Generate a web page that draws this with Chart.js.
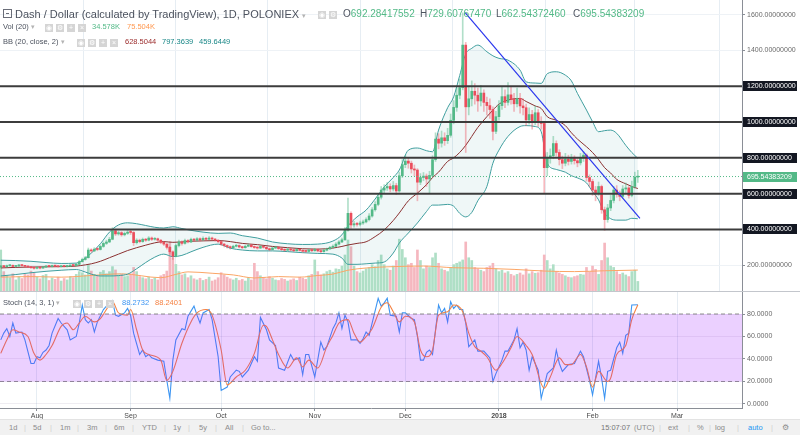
<!DOCTYPE html>
<html lang="en">
<head>
<meta charset="utf-8"/>
<title>Dash / Dollar, 1D, POLONIEX</title>
<style>
  body, html {
    margin: 0;
    padding: 0;
    background: #fff;
    font-family: 'Liberation Sans', Arial, sans-serif;
  }
  #wrap { position: relative; width: 800px; height: 435px; overflow: hidden; }
  canvas { position: absolute; left: 0; }
  #mainChart { top: 0; }
  #stochChart { top: 292px; }
  #sep { position: absolute; left: 0; top: 291px; width: 800px; height: 1px; background: #c3c6cc; }
  .t { position: absolute; white-space: nowrap; line-height: 12px; color: #4c525e; }
  .small { font-size: 7.5px; }
  .ib {
    display: inline-block; width: 8px; height: 8px; margin-right: 3px;
    background: #d5d5d5; color: #fff; font-size: 7px; line-height: 8px;
    text-align: center; vertical-align: middle;
  }
  .arrow { color: #b3b3b3; font-size: 7px; }
  .up { color: #53b987; }
  #toolbar {
    position: absolute; left: 0; top: 419px; width: 800px; height: 16px;
    background: #f1f1f1; border-top: 1px solid #e3e3e3;
    font-size: 7.5px; color: #8c8c8c;
  }
  #toolbar span { position: absolute; top: 2px; line-height: 12px; }
  #toolbar .bar { color: #d0d0d0; }
</style>
</head>
<body>
<div id="wrap">
  <canvas id="mainChart" width="800" height="291"></canvas>
  <div id="sep"></div>
  <canvas id="stochChart" width="800" height="128"></canvas>

  <!-- price pane legend -->
  <div class="t" style="left:3px;top:9px;width:7px;height:7px;border:1px solid #6a6d78;">
    <div style="position:absolute;left:2px;top:3px;width:3px;height:1px;background:#6a6d78"></div>
  </div>
  <div class="t" style="left:15px;top:8px;font-size:11px;">Dash / Dollar (calculated by TradingView), 1D, POLONIEX <span class="arrow">▾</span></div>
  <div class="t" style="left:318px;top:8px;"><span class="ib">◉</span><span class="ib">⚙</span></div>
  <div class="t" style="left:343px;top:8px;font-size:10px;">O<span class="up">692.28417552</span></div>
  <div class="t" style="left:420px;top:8px;font-size:10px;">H<span class="up">729.60767470</span></div>
  <div class="t" style="left:496px;top:8px;font-size:10px;">L<span class="up">662.54372460</span></div>
  <div class="t" style="left:573px;top:8px;font-size:10px;">C<span class="up">695.54383209</span></div>

  <div class="t small" style="left:3px;top:21px;">Vol (20) <span class="arrow">▾</span></div>
  <div class="t" style="left:45px;top:21px;"><span class="ib">◉</span><span class="ib">⚙</span><span class="ib">+</span><span class="ib">×</span></div>
  <div class="t small" style="left:92px;top:21px;color:#53b987;">34.578K</div>
  <div class="t small" style="left:127px;top:21px;color:#ff9850;">75.504K</div>

  <div class="t small" style="left:3px;top:36px;">BB (20, close, 2) <span class="arrow">▾</span></div>
  <div class="t" style="left:77px;top:36px;"><span class="ib">◉</span><span class="ib">⚙</span><span class="ib">+</span><span class="ib">×</span></div>
  <div class="t small" style="left:125px;top:36px;color:#9b2b2b;">628.5044</div>
  <div class="t small" style="left:162px;top:36px;color:#198787;">797.3639</div>
  <div class="t small" style="left:199px;top:36px;color:#198787;">459.6449</div>

  <!-- stochastic pane legend -->
  <div class="t small" style="left:3px;top:297px;">Stoch (14, 3, 1) <span class="arrow">▾</span></div>
  <div class="t" style="left:73px;top:297px;"><span class="ib">◉</span><span class="ib">⚙</span><span class="ib">+</span><span class="ib">×</span></div>
  <div class="t small" style="left:122px;top:297px;color:#3d95f2;">88.2732</div>
  <div class="t small" style="left:155px;top:297px;color:#f58142;">88.2401</div>

  <div id="toolbar">
    <span style="left:9px">1d</span><span class="bar" style="left:24px">|</span>
    <span style="left:33px">5d</span><span class="bar" style="left:50px">|</span>
    <span style="left:60px">1m</span><span class="bar" style="left:77px">|</span>
    <span style="left:87px">3m</span><span class="bar" style="left:105px">|</span>
    <span style="left:114px">6m</span><span class="bar" style="left:132px">|</span>
    <span style="left:142px">YTD</span><span class="bar" style="left:164px">|</span>
    <span style="left:173px">1y</span><span class="bar" style="left:188px">|</span>
    <span style="left:199px">5y</span><span class="bar" style="left:215px">|</span>
    <span style="left:225px">All</span><span class="bar" style="left:242px">|</span>
    <span style="left:251px">Go to...</span>
    <span style="left:601px;color:#777">15:07:07</span><span style="left:634px">(UTC)</span>
    <span class="bar" style="left:659px">|</span><span style="left:668px">ext</span>
    <span class="bar" style="left:688px">|</span><span style="left:697px">%</span>
    <span class="bar" style="left:709px">|</span><span style="left:715px">log</span>
    <span class="bar" style="left:737px">|</span><span style="left:748px;color:#2196f3">auto</span>
    <span class="bar" style="left:771px">|</span><span style="left:782px">⚙</span>
  </div>
</div>

<script src="https://cdn.jsdelivr.net/npm/chart.js"></script>
<script>
    // x = day number, day 0 = 20 Jul 2017
    const monthDays = [12, 43, 73, 104, 134, 165, 196, 224];
    const monthLabels = ['Aug', 'Sep', 'Oct', 'Nov', 'Dec', '2018', 'Feb', 'Mar'];
    const priceTicks = [200, 400, 600, 800, 1000, 1200, 1400, 1600];
    const levelLines = [1200, 1000, 800, 600, 400];
    const stochTicks = [0, 20, 40, 60, 80];
    const stochBand = [80, 20];
    const trendDays = [153.8, 211.7];
    const trendPrices = [1611, 462];

    const opens = [
      190,196,192,197,199,193,196,201,198,194, 190,186,183,187,184,190,195,193,197,195,
      192,196,193,195,199,198,205,220,232,242, 285,280,290,288,305,322,330,345,392,375,
      382,370,378,385,383,326,340,332,345,340, 352,345,348,340,328,318,300,275,250,310,
      330,322,338,330,345,340,348,342,350,345, 352,346,340,332,318,310,303,298,306,310,
      302,298,306,312,304,299,296,305,300,292, 287,296,300,293,287,284,290,285,281,288,
      283,278,277,285,281,288,280,276,284,291, 300,306,318,330,342,395,490,425,432,428,
      436,442,455,475,510,540,580,620,632,640, 626,645,615,700,762,782,770,738,732,664,
      690,698,682,702,790,905,882,912,896,926, 1010,1082,1150,1192,1430,1085,1130,1172,1150,1118,
      1162,1110,1092,1070,948,1030,1092,1142,1110,1152, 1128,1102,1132,1090,1080,1012,1042,1000,1052,1000,
      992,745,800,812,880,830,790,770,792,780, 796,784,772,800,815,690,668,620,602,640,
      510,455,520,562,620,602,585,626,632,590, 640,692.28417552
    ];
    const highs = [
      200,199,201,204,202,199,205,204,200,197, 193,189,191,190,193,199,198,201,200,197,
      199,198,198,203,204,210,226,240,250,296, 292,298,297,312,330,340,356,410,398,390,
      388,386,394,395,388,348,346,352,350,360, 358,355,352,344,333,322,305,280,318,340,
      336,346,344,352,350,355,353,358,356,360, 357,350,344,336,322,314,308,312,318,314,
      306,312,320,316,308,303,310,309,304,296, 301,306,303,297,291,295,294,289,293,292,
      287,283,290,289,294,292,284,290,296,306, 314,326,338,352,410,575,498,445,440,446,
      452,465,488,522,556,598,640,650,662,655, 668,658,720,790,812,800,782,760,740,712,
      718,710,725,812,940,935,950,940,965,1045, 1120,1190,1240,1610,1445,1200,1230,1215,1190,1205,
      1180,1140,1130,1085,1060,1120,1200,1180,1220,1200, 1160,1190,1160,1130,1100,1080,1065,1090,1070,1030,
      1000,830,850,920,895,845,810,825,815,820, 812,800,825,835,822,705,680,640,665,648,
      525,540,590,640,645,615,645,660,640,670, 720,729.6076747
    ];
    const lows = [
      186,188,189,194,190,190,193,195,191,186, 182,178,180,180,182,187,190,191,192,189,
      190,190,190,193,195,196,203,217,228,240, 272,276,281,285,300,316,326,342,366,368,
      362,364,372,372,310,318,325,328,333,336, 338,340,334,320,310,290,262,232,246,302,
      312,318,324,326,334,336,336,338,340,342, 340,334,326,310,302,296,290,294,302,297,
      292,295,303,300,294,290,293,295,287,281, 284,292,288,282,279,281,280,276,278,279,
      272,271,274,276,278,275,270,273,280,288, 296,302,314,326,338,390,405,412,418,420,
      428,436,448,468,502,532,570,605,618,610, 615,595,608,690,745,742,715,700,560,650,
      672,640,600,695,780,850,860,870,880,915, 990,1060,1130,1180,830,1040,1090,1100,1060,1090,
      1060,1040,1020,900,935,1010,1070,1080,1095,1100, 1060,1085,1050,1040,980,990,960,985,975,960,
      600,700,770,795,810,760,740,755,760,765, 765,750,760,780,670,640,590,560,590,490,
      395,440,505,548,580,560,575,600,575,582, 630,662.5437246
    ];
    const closes = [
      196,192,197,199,193,196,201,198,194,190, 186,183,187,184,190,195,193,197,195,192,
      196,193,195,199,198,205,220,232,242,285, 280,290,288,305,322,330,345,392,375,382,
      370,378,385,383,326,340,332,345,340,352, 345,348,340,328,318,300,275,250,310,330,
      322,338,330,345,340,348,342,350,345,352, 346,340,332,318,310,303,298,306,310,302,
      298,306,312,304,299,296,305,300,292,287, 296,300,293,287,284,290,285,281,288,283,
      278,277,285,281,288,280,276,284,291,300, 306,318,330,342,395,490,425,432,428,436,
      442,455,475,510,540,580,620,632,640,626, 645,615,700,762,782,770,738,732,664,690,
      698,682,702,790,905,882,912,896,926,1010, 1082,1150,1192,1430,1085,1130,1172,1150,1118,1162,
      1110,1092,1070,948,1030,1092,1142,1110,1152,1128, 1102,1132,1090,1080,1012,1042,1000,1052,1000,992,
      745,800,812,880,830,790,770,792,780,796, 784,772,800,815,690,668,620,602,640,510,
      455,520,562,620,602,585,626,632,590,640, 692.28417552,695.54383209
    ];
    // volume in thousands
    const volumes = [
      148,70,55,48,62,40,52,45,60,58, 72,65,50,44,56,60,38,47,42,50,
      36,45,40,52,48,60,70,66,58,95, 72,60,55,68,74,62,70,88,76,58,
      60,52,55,62,85,70,52,48,44,50, 42,46,40,55,60,72,177,120,96,70,
      58,62,48,55,44,40,46,38,42,50, 36,40,48,66,58,50,44,40,46,38,
      42,36,48,40,100,70,55,48,44,52, 46,40,38,45,42,36,40,44,38,50,
      46,42,55,60,112,70,58,62,70,75, 68,80,78,90,130,184,160,90,70,65,
      72,80,85,95,88,110,130,95,80,75, 90,110,187,150,120,95,100,85,148,110,
      80,90,85,120,137,100,80,75,70,85, 95,100,105,112,177,120,110,85,80,75,
      70,85,90,100,80,70,75,65,70,60, 55,60,65,58,80,62,70,64,66,75,
      130,110,80,95,70,65,60,55,50,48, 52,55,60,58,85,70,90,78,60,110,
      173,120,90,85,70,60,65,58,52,70, 75,34.578
    ];
    const maDays = [0, 10, 20, 30, 40, 53, 58, 62, 70, 77, 84, 92, 99, 105, 110, 115, 121, 130, 140, 150, 160, 170, 180, 190, 200, 211];
    const maVals = [50, 52, 50, 56, 62, 48, 60, 69, 64, 58, 47, 52, 50, 56, 61, 75, 83, 88, 90, 84, 82, 78, 72, 70, 73, 75.504];

    // Bollinger bands
    const bbDays = [0, 5, 10, 15, 20, 25, 28, 30, 33, 36, 39, 42, 45, 48, 51, 54, 57, 60, 63, 67, 72, 76, 80, 85, 90, 95, 100, 105, 110, 113,
      115, 118, 121, 124, 127, 130, 132, 135, 138, 141, 143, 145, 148, 150, 152, 154, 156, 158, 161, 163, 165, 168, 172, 174, 177, 179,
      181, 184, 187, 189, 191, 194, 196, 198, 200, 202, 204, 207, 209, 211];
    const bbUpper = [228, 226, 222, 215, 210, 212, 240, 268, 320, 385, 425, 437, 432, 422, 412, 408, 415, 405, 395, 385, 378, 380, 365, 352, 330, 320, 316, 318, 335, 370,
      420, 470, 508, 570, 638, 690, 732, 843, 855, 840, 834, 955, 1080, 1141, 1260, 1380, 1412, 1430, 1393, 1370, 1356, 1346, 1290, 1225, 1218, 1216,
      1270, 1281, 1262, 1230, 1160, 1067, 1002, 946, 952, 955, 937, 870, 830, 797.3639];
    const bbBasis = [185, 188, 190, 191, 192, 195, 202, 208, 222, 242, 262, 282, 298, 312, 325, 332, 328, 330, 334, 336, 338, 332, 322, 315, 305, 298, 292, 290, 296, 305,
      313, 322, 331, 360, 397, 450, 492, 560, 603, 650, 690, 720, 780, 800, 830, 870, 920, 970, 1030, 1067, 1100, 1123, 1132, 1115, 1090, 1076,
      1030, 1010, 980, 940, 905, 862, 830, 790, 745, 715, 680, 655, 640, 628.5044];
    const bbLower = [140, 148, 158, 166, 172, 176, 162, 150, 140, 140, 142, 150, 180, 215, 245, 262, 248, 255, 275, 300, 318, 295, 285, 280, 280, 276, 270, 266, 262, 240,
      205, 205, 208, 212, 218, 268, 324, 380, 436, 500, 536, 536, 540, 530, 490, 470, 495, 560, 640, 770, 843, 920, 975, 980, 975, 946,
      770, 735, 720, 700, 688, 660, 611, 565, 490, 460, 452, 452, 462, 459.6449];

    const kDays = [0,1,2,3,4,5,7,8,10,11,12,13,14,15,16,17,19,20,22,23,25,26,27,28,29,30,31,32,34,35,37,38,39,41,42,43,44,46,47,48,49,50,52,54,55,56,57,58,
      60,61,62,64,65,66,67,69,70,72,73,75,76,78,79,80,82,84,85,86,88,89,91,92,94,96,97,99,100,101,102,104,106,107,108,110,111,112,113,114,115,116,
      118,119,120,121,122,123,125,126,127,128,129,131,132,133,134,136,137,138,139,140,141,142,143,145,146,147,148,149,150,151,152,153,154,155,157,158,
      160,162,163,164,166,167,168,169,170,171,172,173,174,175,176,178,179,181,183,184,185,186,188,190,192,193,195,196,198,199,200,201,202,204,205,206,
      207,208,209,211];
    const kVals = [57,63,67,60,72,63,64,57,36,36,42,41,46,48,52,63,76,72,66,57,60,72,88,75,72,75,64,73,84,87,92,79,78,81,85,79,63,44,48,42,44,41,39,38,21,5,39,57,
      67,66,78,87,79,72,81,84,75,42,12,15,24,30,29,24,30,42,38,77,66,57,52,32,30,44,39,41,26,44,44,24,55,48,51,67,72,81,67,79,73,57,
      57,54,58,64,61,72,94,87,90,94,79,78,64,81,81,76,75,60,39,39,46,48,44,88,81,85,73,91,85,88,84,84,72,51,57,47,
      47,41,20,27,39,47,47,52,57,67,50,55,48,30,42,30,5,27,32,48,36,29,35,36,47,42,21,8,38,23,5,29,30,50,55,45,
      61,63,88,88.2732];
    const dDays = [0,2,4,6,9,11,13,15,17,20,22,24,26,28,31,33,35,37,39,42,43,45,47,49,53,55,57,60,63,65,68,70,73,75,78,81,84,87,88,90,92,95,98,100,102,105,
      108,110,112,115,117,119,121,123,126,128,130,132,134,137,139,141,143,145,148,150,153,155,157,159,161,164,166,169,171,174,176,180,182,185,187,189,
      192,194,196,198,201,202,204,207,209,211];
    const dVals = [45,57,66,64,60,45,39,44,52,69,72,66,72,78,73,76,84,91,81,79,84,66,48,44,39,21,29,54,73,81,84,79,48,17,24,30,45,70,69,57,44,32,41,33,39,32,
      51,61,72,75,63,55,60,67,86,90,82,73,78,73,48,42,48,79,82,88,82,63,51,47,42,30,36,50,60,52,44,14,24,41,35,35,
      44,33,15,29,20,23,44,52,75,88.2401];

    const xMin = -0.25;
    const xMax = 245.5;
    const upColor = '#53b987';
    const downColor = '#eb4d5c';

    Chart.defaults.font.family = "'Liberation Sans', Arial, sans-serif";
    Chart.defaults.font.size = 7;

    function isUp(i) {
      return closes[i] >= opens[i];
    }

    // black / green price boxes on the right axis
    const levelLabels = {
      id: 'levelLabels',
      afterDraw(chart) {
        const ctx = chart.ctx;
        const y = chart.scales.y;
        const drawBox = (v, bg) => {
          const py = Math.round(y.getPixelForValue(v));
          ctx.save();
          ctx.fillStyle = bg;
          ctx.fillRect(y.left + 1, py - 5, 54, 10);
          ctx.fillStyle = '#fff';
          ctx.font = "7px 'Liberation Sans', Arial, sans-serif";
          ctx.textBaseline = 'middle';
          ctx.fillText(v.toFixed(8), y.left + 5, py);
          ctx.restore();
        };
        levelLines.forEach(v => drawBox(v, '#131722'));
        drawBox(closes[closes.length - 1], upColor);
      }
    };

    const mainDatasets = [
      {
        type: 'bar', yAxisID: 'vol', order: 10,
        data: volumes.map((v, i) => ({ x: i, y: v })),
        backgroundColor: ctx => isUp(ctx.dataIndex) ? '#afdfc6' : '#f5b7bf',
        grouped: false, barPercentage: 1, categoryPercentage: 1, maxBarThickness: 2
      },
      {
        type: 'line', yAxisID: 'vol', order: 9,
        data: maDays.map((d, i) => ({ x: d, y: maVals[i] })),
        borderColor: '#fba565', borderWidth: 1, pointRadius: 0, cubicInterpolationMode: 'monotone'
      },
      {
        type: 'line', order: 8,
        data: bbDays.map((d, i) => ({ x: d, y: bbUpper[i] })),
        borderColor: '#3f9e9e', borderWidth: 1, pointRadius: 0, cubicInterpolationMode: 'monotone',
        fill: '+2', backgroundColor: 'rgba(25,135,135,0.07)'
      },
      {
        type: 'line', order: 7,
        data: bbDays.map((d, i) => ({ x: d, y: bbBasis[i] })),
        borderColor: '#8a3030', borderWidth: 1, pointRadius: 0, cubicInterpolationMode: 'monotone'
      },
      {
        type: 'line', order: 7,
        data: bbDays.map((d, i) => ({ x: d, y: bbLower[i] })),
        borderColor: '#3f9e9e', borderWidth: 1, pointRadius: 0, cubicInterpolationMode: 'monotone'
      },
      {
        // wicks
        type: 'bar', order: 5,
        data: highs.map((h, i) => ({ x: i, y: [lows[i], h] })),
        backgroundColor: ctx => isUp(ctx.dataIndex) ? 'rgba(83,185,135,0.45)' : 'rgba(235,77,92,0.4)',
        grouped: false, barPercentage: 1, categoryPercentage: 1, maxBarThickness: 1
      },
      {
        // bodies
        type: 'bar', order: 4,
        data: opens.map((o, i) => ({ x: i, y: [o, closes[i]] })),
        backgroundColor: ctx => isUp(ctx.dataIndex) ? upColor : downColor,
        grouped: false, barPercentage: 1, categoryPercentage: 1, maxBarThickness: 2, minBarLength: 1
      },
      {
        type: 'line', order: 3,
        data: [{ x: xMin, y: closes[closes.length - 1] }, { x: xMax, y: closes[closes.length - 1] }],
        borderColor: '#53b987', borderWidth: 1, borderDash: [1, 2], pointRadius: 0
      }
    ];
    levelLines.forEach(v => {
      mainDatasets.push({
        type: 'line', order: 2,
        data: [{ x: xMin, y: v }, { x: xMax, y: v }],
        borderColor: '#3c3c3c', borderWidth: 2, pointRadius: 0
      });
    });
    mainDatasets.push({
      type: 'line', order: 1,
      data: trendDays.map((d, i) => ({ x: d, y: trendPrices[i] })),
      borderColor: '#2b37ee', borderWidth: 1.2, pointRadius: 0
    });

    new Chart(document.getElementById('mainChart'), {
      type: 'line',
      data: { datasets: mainDatasets },
      options: {
        responsive: false,
        animation: false,
        events: [],
        layout: { padding: 0 },
        plugins: { legend: { display: false }, tooltip: { enabled: false } },
        scales: {
          x: {
            type: 'linear', min: xMin, max: xMax, offset: false,
            afterBuildTicks: s => { s.ticks = monthDays.map(v => ({ value: v })); },
            ticks: { display: false },
            grid: { color: '#e6edf3', drawTicks: false },
            border: { display: false },
            afterFit: s => { s.height = 0; s.paddingLeft = 0; s.paddingRight = 0; }
          },
          y: {
            position: 'right', min: 56, max: 1682,
            afterBuildTicks: s => { s.ticks = priceTicks.map(v => ({ value: v })); },
            ticks: { callback: v => v.toFixed(8), color: '#6a6a6a', padding: 2 },
            grid: { color: '#eef2f6', tickLength: 3, tickColor: '#8a8e96' },
            border: { display: true, color: '#8a8e96' },
            afterFit: s => { s.width = 58; s.paddingTop = 0; s.paddingBottom = 0; }
          },
          vol: { position: 'left', display: false, min: 0, max: 1050 }
        }
      },
      plugins: [levelLabels]
    });

    new Chart(document.getElementById('stochChart'), {
      type: 'line',
      data: {
        datasets: [
          {
            data: kDays.map((d, i) => ({ x: d, y: kVals[i] })),
            borderColor: '#3d95f2', borderWidth: 1.1, pointRadius: 0, order: 3
          },
          {
            data: dDays.map((d, i) => ({ x: d, y: dVals[i] })),
            borderColor: '#f58142', borderWidth: 1.1, pointRadius: 0, order: 2, cubicInterpolationMode: 'monotone'
          },
          {
            data: [{ x: xMin, y: stochBand[0] }, { x: xMax, y: stochBand[0] }],
            borderColor: '#8c8c8c', borderWidth: 1, borderDash: [4, 3], pointRadius: 0,
            fill: '+1', backgroundColor: 'rgba(153,21,255,0.2)', order: 1
          },
          {
            data: [{ x: xMin, y: stochBand[1] }, { x: xMax, y: stochBand[1] }],
            borderColor: '#8c8c8c', borderWidth: 1, borderDash: [4, 3], pointRadius: 0, order: 1
          }
        ]
      },
      options: {
        responsive: false,
        animation: false,
        events: [],
        layout: { padding: 0 },
        plugins: { legend: { display: false }, tooltip: { enabled: false } },
        scales: {
          x: {
            type: 'linear', min: xMin, max: xMax, offset: false,
            afterBuildTicks: s => { s.ticks = monthDays.map(v => ({ value: v })); },
            ticks: {
              callback: (v, i) => monthLabels[i],
              color: '#4a4a4a', padding: 1, maxRotation: 0, autoSkip: false,
              font: ctx => ({ size: 7, weight: ctx.tick && ctx.tick.label === '2018' ? 'bold' : 'normal' })
            },
            grid: { color: '#e6edf3', tickLength: 3, tickColor: '#8a8e96' },
            border: { display: true, color: '#8a8e96' },
            afterFit: s => { s.height = 12; s.paddingLeft = 0; s.paddingRight = 0; }
          },
          y: {
            position: 'right', min: -3.6, max: 99.6,
            afterBuildTicks: s => { s.ticks = stochTicks.map(v => ({ value: v })); },
            ticks: { callback: v => v.toFixed(4), color: '#6a6a6a', padding: 2 },
            grid: { color: 'rgba(120,110,150,0.12)', tickLength: 3, tickColor: '#8a8e96' },
            border: { display: true, color: '#8a8e96' },
            afterFit: s => { s.width = 58; s.paddingTop = 0; s.paddingBottom = 0; }
          }
        }
      }
    });
</script>
</body>
</html>
